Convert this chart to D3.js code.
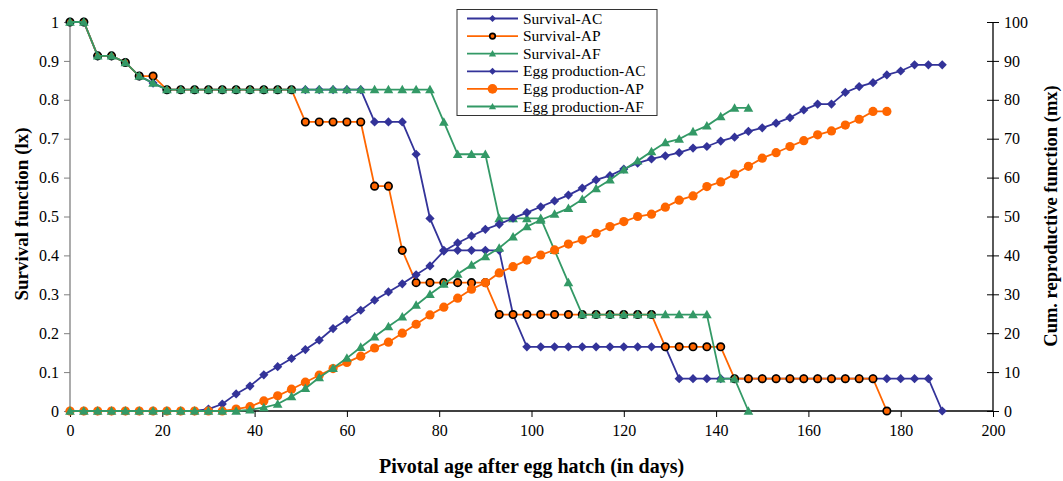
<!DOCTYPE html>
<html><head><meta charset="utf-8">
<script src="https://cdn.jsdelivr.net/npm/d3@7"></script>
<style>body{margin:0;background:#fff} svg{display:block}</style>
</head><body><svg id="c" width="1063" height="481"></svg>
<script>
// ---- data ----
const ages = [0,3,6,9,12,15,18,21,24,27,30,33,36,39,42,45,48,51,54,57,60,63,66,69,72,75,78,81,84,87,90,93,96,99,102,105,108,111,114,117,120,123,126,129,132,135,138,141,144,147,150,153,156,159,162,165,168,171,174,177,180,183,186,189];

const survivalAC = [1,1,0.913,0.913,0.896,0.861,0.843,
  0.826,0.826,0.826,0.826,0.826,0.826,0.826,0.826,0.826,0.826,0.826,0.826,0.826,0.826,0.826,
  0.743,0.743,0.743,0.66,0.495,
  0.413,0.413,0.413,0.413,0.413,0.248,
  0.165,0.165,0.165,0.165,0.165,0.165,0.165,0.165,0.165,0.165,0.165,
  0.083,0.083,0.083,0.083,0.083,0.083,0.083,0.083,0.083,0.083,0.083,0.083,0.083,0.083,0.083,0.083,0.083,0.083,0.083,
  0];
const survivalAP = [1,1,0.913,0.913,0.896,0.861,0.861,
  0.826,0.826,0.826,0.826,0.826,0.826,0.826,0.826,0.826,0.826,
  0.743,0.743,0.743,0.743,0.743,0.578,0.578,0.413,
  0.33,0.33,0.33,0.33,0.33,0.33,
  0.248,0.248,0.248,0.248,0.248,0.248,0.248,0.248,0.248,0.248,0.248,0.248,
  0.165,0.165,0.165,0.165,0.165,
  0.083,0.083,0.083,0.083,0.083,0.083,0.083,0.083,0.083,0.083,0.083,
  0];
const survivalAF = [1,1,0.913,0.913,0.896,0.861,0.843,
  0.826,0.826,0.826,0.826,0.826,0.826,0.826,0.826,0.826,0.826,0.826,0.826,0.826,0.826,0.826,0.826,0.826,0.826,0.826,0.826,
  0.743,0.66,0.66,0.66,0.495,0.495,0.495,0.495,0.413,0.33,
  0.248,0.248,0.248,0.248,0.248,0.248,0.248,0.248,0.248,0.248,
  0.083,0.083,0];

const eggAC = [0,0,0,0,0,0,0,0,0,0,
  0.5,1.8,4.4,6.4,9.3,11.4,13.5,15.8,18.2,21.2,
  23.5,25.9,28.5,30.6,32.7,35,37.3,41.1,43.2,45,
  46.7,48,49.6,51,52.5,54,55.5,57.3,59.4,60.5,
  62.2,63.7,64.8,65.6,66.4,67.6,68,69.4,70.4,71.9,
  72.8,74,75.4,77.4,78.9,78.9,81.9,83.4,84.4,86.4,
  87.4,89,89,89];
const eggAP = [0,0,0,0,0,0,0,0,0,0,0,0,
  0.5,1.1,2.6,3.9,5.6,7.4,9.2,10.9,
  12.5,14.1,16.2,17.7,20,22.3,24.7,26.7,29,31.3,
  33,35.5,37.1,38.8,40.1,41.4,42.9,44,45.7,47.4,
  48.7,50,50.6,52.4,54.2,55.3,57.7,58.9,60.9,62.9,
  65,66.4,68,69.5,71,72,73.5,75,77,77];
const eggAF = [0,0,0,0,0,0,0,0,0,0,0,0,0,
  0.3,0.9,1.8,3.7,5.8,8.6,11,
  13.6,16.4,19.1,21.7,24.2,27.2,30,32.6,35.2,37.5,
  39.7,41.9,44.8,47.4,49.1,50.6,52.1,54.4,57.2,59.4,
  62,64.3,66.7,69,69.9,71.8,73.3,75.7,77.9,77.9];

const xTicks = [0,20,40,60,80,100,120,140,160,180,200];
const leftTicks = [0,0.1,0.2,0.3,0.4,0.5,0.6,0.7,0.8,0.9,1];
const rightTicks = [0,10,20,30,40,50,60,70,80,90,100];

const seriesNames = ["Survival-AC","Survival-AP","Survival-AF","Egg production-AC","Egg production-AP","Egg production-AF"];
const seriesValues = [survivalAC, survivalAP, survivalAF, eggAC, eggAP, eggAF];
const seriesAxis = ["left","left","left","right","right","right"];
const seriesColor = ["#333399","#FF6600","#339966","#333399","#FF6600","#339966"];
const seriesMarker = ["diamond","ringcircle","triangle","diamond","circle","triangle"];

const xTitle = "Pivotal age after egg hatch (in days)";
const leftTitle = "Survival function (lx)";
const rightTitle = "Cum. reproductive function (mx)";

// ---- layout ----
const L = 70, R = 993, T = 22, B = 411;
const svg = d3.select("#c");
const FONT = "'Liberation Serif','Times New Roman',serif";

const x = d3.scaleLinear().domain([0,200]).range([L,R]);
const yL = d3.scaleLinear().domain([0,1]).range([B,T]);
const yR = d3.scaleLinear().domain([0,100]).range([B,T]);

function markerPath(type, s) {
  if (type === "diamond") return `M0,${-s}L${s},0L0,${s}L${-s},0Z`;
  if (type === "triangle") return `M0,${-s*1.05}L${s*1.05},${s*0.8}L${-s*1.05},${s*0.8}Z`;
  return null;
}
function drawMarker(g, type, color, cx, cy, scale) {
  scale = scale || 1;
  if (type === "circle") {
    g.append("circle").attr("cx",cx).attr("cy",cy).attr("r",4.6*scale).attr("fill",color);
  } else if (type === "ringcircle") {
    g.append("circle").attr("cx",cx).attr("cy",cy).attr("r",3.7*scale).attr("fill",color)
      .attr("stroke","#000").attr("stroke-width",1.7);
  } else {
    g.append("path").attr("d", markerPath(type, 4.6*scale))
      .attr("transform",`translate(${cx},${cy})`).attr("fill",color);
  }
}

// axes
const gx = svg.append("g").attr("transform",`translate(0,${B})`)
  .call(d3.axisBottom(x).tickValues(xTicks).tickSize(6).tickPadding(8).tickFormat(d3.format("d")));
gx.selectAll(".tick line").attr("stroke","#000");

const gl = svg.append("g").attr("transform",`translate(${L},0)`)
  .call(d3.axisLeft(yL).tickValues(leftTicks).tickSize(6).tickPadding(5).tickFormat(d => d3.format("~g")(d)));
gl.selectAll(".tick line").attr("stroke","#7f7f7f");

const gr = svg.append("g").attr("transform",`translate(${R},0)`)
  .call(d3.axisRight(yR).tickValues(rightTicks).tickSize(6).tickPadding(5).tickFormat(d3.format("d")));
gr.selectAll(".tick line").attr("stroke","#000").attr("x1",-6);

[gx,gl,gr].forEach(g => {
  g.select(".domain").remove();
  g.selectAll("text").attr("font-family",FONT).attr("font-size",16).attr("fill","#000");
});
svg.append("line").attr("x1",L).attr("x2",R).attr("y1",B).attr("y2",B).attr("stroke","#000").attr("stroke-width",1.3);
svg.append("line").attr("x1",L).attr("x2",L).attr("y1",T).attr("y2",B).attr("stroke","#7f7f7f").attr("stroke-width",1.3);
svg.append("line").attr("x1",R).attr("x2",R).attr("y1",T).attr("y2",B).attr("stroke","#000").attr("stroke-width",1.3);

// series
seriesValues.forEach((vals, i) => {
  const ys = seriesAxis[i] === "left" ? yL : yR;
  const pts = vals.map((v, j) => [x(ages[j]), ys(v)]);
  const g = svg.append("g");
  g.append("path").attr("d", d3.line()(pts)).attr("fill","none")
    .attr("stroke", seriesColor[i]).attr("stroke-width",1.8);
  pts.forEach(p => drawMarker(g, seriesMarker[i], seriesColor[i], p[0], p[1]));
});

// titles
svg.append("text").attr("x",(L+R)/2).attr("y",473).attr("text-anchor","middle")
  .attr("font-family",FONT).attr("font-weight","bold").attr("font-size",20).text(xTitle);
svg.append("text").attr("transform",`translate(28,214) rotate(-90)`).attr("text-anchor","middle")
  .attr("font-family",FONT).attr("font-weight","bold").attr("font-size",19).text(leftTitle);
svg.append("text").attr("transform",`translate(1057,216) rotate(-90)`).attr("text-anchor","middle")
  .attr("font-family",FONT).attr("font-weight","bold").attr("font-size",18.5).text(rightTitle);

// legend
const lg = svg.append("g");
lg.append("rect").attr("x",457).attr("y",9.5).attr("width",200).attr("height",106)
  .attr("fill","#fff").attr("stroke","#333").attr("stroke-width",1);
seriesNames.forEach((n, i) => {
  const cy = 18.5 + i*17.6;
  lg.append("line").attr("x1",467).attr("x2",518).attr("y1",cy).attr("y2",cy)
    .attr("stroke",seriesColor[i]).attr("stroke-width",1.8);
  drawMarker(lg, seriesMarker[i], seriesColor[i], 492.5, cy, i===4 ? 1.05 : 0.75);
  lg.append("text").attr("x",523).attr("y",cy+5).attr("font-family",FONT).attr("font-size",15.5)
    .attr("fill","#000").text(n);
});
</script>
</body></html>
